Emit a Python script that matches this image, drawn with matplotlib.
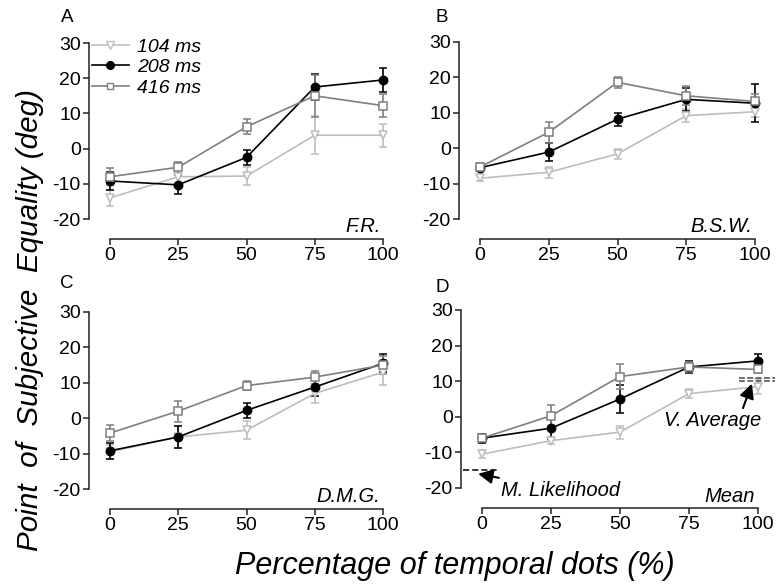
import matplotlib
matplotlib.use('Agg')
import matplotlib.pyplot as plt
from matplotlib.lines import Line2D

plt.rcParams['font.family'] = ['Liberation Sans', 'DejaVu Sans']
plt.rcParams['axes.unicode_minus'] = False

# percentage of temporal dots
pct = [0, 25, 50, 75, 100]
durations = ['104 ms', '208 ms', '416 ms']
subjects = ['F.R.', 'B.S.W.', 'D.M.G.', 'Mean']
panel_letters = ['A', 'B', 'C', 'D']

# PSE means (deg) per panel, order: 104, 208, 416 ms
a_104 = [-14, -8, -7.8, 3.8, 3.8]
a_208 = [-9.2, -10.3, -2.5, 17.5, 19.5]
a_416 = [-8, -5.3, 6.2, 15, 12.2]
b_104 = [-8.5, -6.8, -1.6, 9.2, 10.3]
b_208 = [-5.5, -1.1, 8.2, 13.8, 12.7]
b_416 = [-5.3, 4.5, 18.6, 14.8, 13.2]
c_104 = [-9.5, -5.3, -3.4, 7, 13]
c_208 = [-9.2, -5.3, 2.2, 8.8, 15.5]
c_416 = [-4.2, 2, 9.2, 11.6, 15]
d_104 = [-10.5, -6.7, -4.3, 6.5, 8.5]
d_208 = [-6, -3.2, 5, 14, 15.7]
d_416 = [-6, 0.3, 11.3, 14, 13.3]

# error bars
a_104_err = [2.2, 2, 2.6, 5.4, 3.3]
a_208_err = [2.5, 2.7, 2.2, 3.8, 3.3]
a_416_err = [2.4, 1.5, 2.1, 6, 3.3]
b_104_err = [0.8, 1.5, 1.5, 1.8, 1.5]
b_208_err = [1, 2.5, 1.8, 3.2, 5.4]
b_416_err = [1.2, 2.9, 1.6, 2.7, 2]
c_104_err = [2, 3, 2.6, 2.7, 3.5]
c_208_err = [2.3, 3.2, 2.2, 2.6, 2.5]
c_416_err = [2.2, 3, 1.3, 1.8, 2.5]
d_104_err = [1.2, 1, 1.8, 1.3, 2.2]
d_208_err = [1.3, 3, 3.8, 1.7, 1.8]
d_416_err = [1, 3, 3.6, 1.5, 1]

# model predictions shown in panel D
ml_pred = -15
va_pred = [11, 10]

means = [[a_104, a_208, a_416], [b_104, b_208, b_416],
         [c_104, c_208, c_416], [d_104, d_208, d_416]]
errs = [[a_104_err, a_208_err, a_416_err], [b_104_err, b_208_err, b_416_err],
        [c_104_err, c_208_err, c_416_err], [d_104_err, d_208_err, d_416_err]]

colors = ['#bdbdbd', 'black', '#7f7f7f']
markers = ['v', 'o', 's']
mfcs = ['white', 'black', 'white']
msizes = [6, 6, 5.5]

fig = plt.figure(figsize=(7.8, 5.87), dpi=100)
W, H = 780, 587

# axes boxes in pixels: left, top, right, bottom
boxes = [(110, 43, 383, 219), (480, 42, 755, 219),
         (110, 312, 383, 489), (482, 310, 758, 488)]
letter_pos = [(67, 17), (442, 17), (67, 283), (442, 287)]

axes = []
for i, (l, t, r, b) in enumerate(boxes):
    ax = fig.add_axes([l / W, 1 - b / H, (r - l) / W, (b - t) / H])
    ax.patch.set_alpha(0)
    for k in range(3):
        eb = ax.errorbar(pct, means[i][k], yerr=errs[i][k], color=colors[k],
                         marker=markers[k], mfc=mfcs[k], mec=colors[k],
                         ms=msizes[k], lw=1.2, elinewidth=1.2, capsize=3,
                         capthick=1.2, mew=1.1)
        for child in eb.get_children():
            child.set_clip_on(False)
    ax.set_xlim(0, 100)
    ax.set_ylim(-20, 30)
    ax.set_xticks(pct)
    ax.set_yticks(range(-20, 31, 10))
    for s in ['top', 'right']:
        ax.spines[s].set_visible(False)
    ax.spines['left'].set_position(('outward', 15))
    ax.spines['bottom'].set_position(('outward', 14.5))
    ax.spines['left'].set_bounds(-20, 30)
    ax.spines['bottom'].set_bounds(0, 100)
    for s in ['left', 'bottom']:
        ax.spines[s].set_linewidth(1.1)
        ax.spines[s].set_color('#222222')
    ax.tick_params(direction='out', length=4.5, width=1.1, labelsize=14,
                   pad=1.5, colors='#222222', labelcolor='black')
    ax.text(99, -0.045, subjects[i], transform=ax.get_xaxis_transform(),
            ha='right', va='center', fontsize=14.5, style='italic')
    fig.text(letter_pos[i][0] / W, 1 - letter_pos[i][1] / H, panel_letters[i],
             ha='center', va='center', fontsize=13.5)
    axes.append(ax)

# legend in panel A
handles = [Line2D([], [], color=colors[k], marker=markers[k], mfc=mfcs[k],
                  mec=colors[k], ms=msizes[k] - 0.5, lw=1.2) for k in range(3)]
axes[0].legend(handles, durations, loc='upper left',
               bbox_to_anchor=(92 / W, 1 - 38 / H), bbox_transform=fig.transFigure,
               frameon=False, handlelength=1.9, handletextpad=0.4,
               labelspacing=0.15, borderpad=0, borderaxespad=0,
               prop={'style': 'italic', 'size': 14})

# panel D annotations
axd = axes[3]
axd.plot([-7, 6], [ml_pred, ml_pred], color='black', lw=1.1,
         dashes=(4, 2), clip_on=False)
axd.annotate('M. Likelihood', xy=(-1.4, -16), xytext=(7, -20.6),
             fontsize=14.5, style='italic', ha='left', va='center',
             arrowprops=dict(arrowstyle='-|>,head_length=0.6,head_width=0.3',
                             color='black', lw=1.5, shrinkA=0, shrinkB=0),
             annotation_clip=False)
for v in va_pred:
    axd.plot([93, 106], [v, v], color='#555555', lw=1.2, dashes=(3.5, 1.5),
             clip_on=False)
axd.annotate('V. Average', xy=(97.8, 9.3), xytext=(66, -1),
             fontsize=14.5, style='italic', ha='left', va='center',
             arrowprops=dict(arrowstyle='-|>,head_length=0.6,head_width=0.3',
                             color='black', lw=1.5, shrinkA=0, shrinkB=0,
                             relpos=(0.8, 1.0)),
             annotation_clip=False)

fig.text(30 / W, 1 - 320 / H, 'Point  of  Subjective  Equality (deg)',
         rotation=90, ha='center', va='center', fontsize=21.3, style='italic')
fig.text(455 / W, 1 - 566 / H, 'Percentage of temporal dots (%)',
         ha='center', va='center', fontsize=22, style='italic')

fig.savefig('out.png', dpi=100)
